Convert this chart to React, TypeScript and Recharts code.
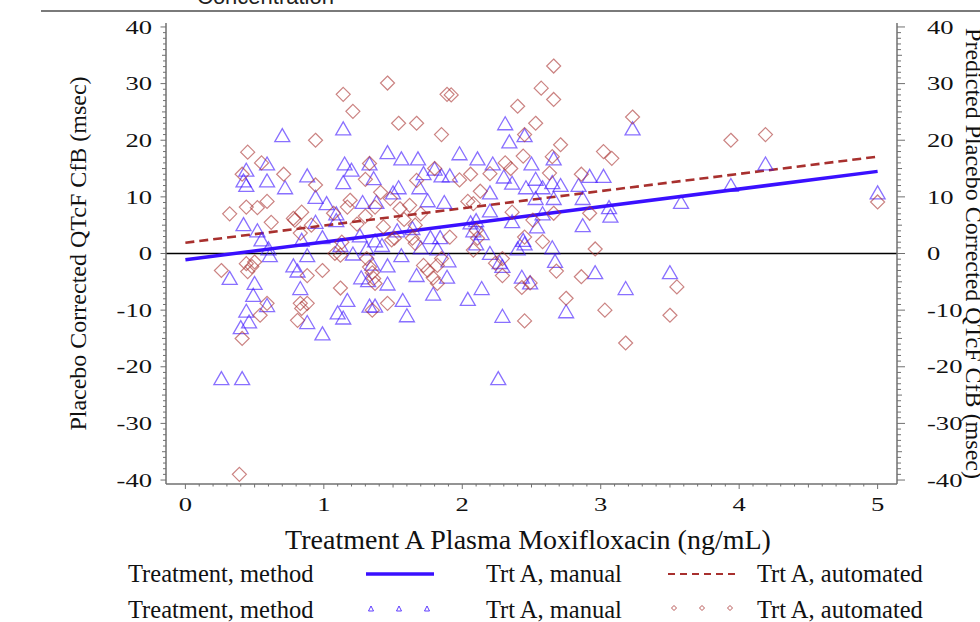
import React from 'react';
import { ComposedChart, Scatter, Line, XAxis, YAxis, ReferenceLine } from 'recharts';

// ---- data ----
const xMajorTicks = [0, 1, 2, 3, 4, 5];
const yMajorTicks = [-40, -30, -20, -10, 0, 10, 20, 30, 40];
const xAllTicks = Array.from({ length: 51 }, (_, i) => i / 10);
const yAllTicks = Array.from({ length: 81 }, (_, i) => i - 40);

const xLabel = 'Treatment A Plasma Moxifloxacin (ng/mL)';
const yLabel = 'Placebo Corrected QTcF CfB (msec)';
const y2Label = 'Predicted Placebo Corrected QTcF CfB (msec)';
const titleText = 'Concentration';
const legendGroup = 'Treatment, method';
const seriesNames = ['Trt A, manual', 'Trt A, automated'];

const manualPts: number[][] = [
  [0.26, -22], [0.41, -22], [0.32, -4.3], [0.5, -5.2], [0.49, -7.3], [0.44, -10.1], [0.46, -12], [0.4, -13],
  [0.59, -9.1], [0.61, -0.3], [0.42, 5.2], [0.52, 4.1], [0.55, 2.5], [0.6, 0.9], [0.42, 12.9], [0.44, 12.1],
  [0.44, 14.8], [0.59, 15.9], [0.59, 12.9], [0.72, 11.7], [0.7, 20.9], [0.88, 13.8], [0.94, 10], [1.02, 8.9],
  [0.84, 2.4], [0.94, 5.6], [0.99, 2.9], [0.88, -0.3], [0.78, -2.1], [0.81, -3], [0.83, -6.1], [0.88, -12.1],
  [0.99, -14.1], [1.09, 5.9], [1.12, 1.5], [1.21, 0], [1.17, -8.2], [1.1, -10.4], [1.14, -11.3], [1.27, -4.2],
  [1.32, -4.7], [1.33, -9.2], [1.37, -9.2], [1.31, 0.9], [1.42, 1.5], [1.46, -2.1], [1.46, -5.3], [1.35, -1.8],
  [1.56, -0.3], [1.57, -8.2], [1.6, -10.9], [1.67, -3.8], [1.53, 4.1], [1.64, 4.5], [1.37, 2.3], [1.26, 3.2],
  [1.7, 1.1], [1.14, 22.1], [1.15, 15.9], [1.2, 14.8], [1.14, 12.6], [1.33, 15.9], [1.46, 17.9], [1.56, 16.8],
  [1.68, 16.8], [1.36, 13.3], [1.28, 9.1], [1.38, 9.1], [1.09, 7.1], [1.54, 11.7], [1.5, 10.8], [1.69, 11.7],
  [1.72, 14.2], [1.75, 9.4], [1.87, 9.1], [1.8, 15], [1.91, 13.8], [1.85, 13.8], [1.98, 17.7], [2.11, 16.8],
  [2.22, 15.9], [2.31, 23], [2.34, 19.8], [2.45, 20.9], [2.5, 15.9], [2.66, 16.8], [2.3, 13.6], [2.36, 12.5],
  [2.53, 13.2], [2.65, 12.6], [2.71, 12.1], [2.84, 12.1], [2.92, 13.7], [3.02, 13.7], [2.2, 10.8], [2.46, 11.7],
  [2.58, 11.7], [2.53, 9.8], [2.66, 9.8], [2.87, 9.8], [2.2, 7.6], [2.58, 7.1], [3.07, 6.7], [3.06, 8.2],
  [2.1, 5.9], [2.36, 5.7], [2.54, 4.8], [2.87, 5], [2.08, 4.1], [2.14, 3.6], [2.06, 5.5], [1.77, 2.9],
  [1.84, 2.9], [2.44, 2.4], [2.65, 1.1], [2.2, 0.1], [2.1, 1.8], [3.23, 22.1], [3.94, 12.1], [4.19, 15.9],
  [3.58, 9.1], [5.0, 10.8], [2.96, -3.3], [3.18, -6.1], [3.5, -3.3], [2.75, -10.2], [2.26, -22], [2.29, -11],
  [2.67, -1.3], [2.43, -4.1], [2.49, -5.1], [2.29, -2.2], [2.14, -6.1], [2.04, -8], [1.79, -7.1], [1.89, -4.1],
  [1.82, 0.9], [1.9, -1.2], [2.4, 0.9], [2.45, 1.8], [2.27, -1.5],
];

const automatedPts: number[][] = [
  [0.39, -39], [0.41, -15], [0.26, -3], [0.44, -1.8], [0.48, -2.3], [0.45, -3.2], [0.5, -1.5], [0.59, -8.8],
  [0.54, -10.9], [0.88, -3.9], [0.99, -3], [1.12, -6.1], [0.83, -8.8], [0.88, -8.8], [0.81, -11.8], [0.84, -9.7],
  [1.08, 0], [1.12, -0.3], [1.31, -0.9], [1.33, -2.4], [1.35, -3.4], [1.36, -4.4], [1.37, -5.3], [1.35, -10],
  [1.46, -8.8], [1.72, -2.1], [1.75, -3], [1.79, -4.3], [1.82, -5.3], [1.85, -0.9], [1.82, -2.1], [2.08, 0.6],
  [2.96, 0.8], [3.55, -5.9], [3.18, -15.8], [3.03, -10], [3.5, -10.9], [2.45, -11.9], [2.75, -7.9], [2.86, -4.1],
  [2.68, -3.1], [2.29, -3.9], [2.24, -1.7], [2.29, -0.9], [2.43, -6], [2.49, -5.2], [1.91, 2.9], [2.1, 4.1],
  [2.11, 2.7], [2.58, 2.1], [2.45, 2.9], [0.62, 5.5], [0.91, 5], [0.79, 5.9], [1.51, 2.7], [1.64, 2.7],
  [1.66, 1.8], [1.14, 28.1], [1.21, 25.1], [1.46, 30.1], [1.54, 23], [1.67, 23], [0.94, 20], [0.45, 17.9],
  [0.55, 16], [0.41, 14], [0.71, 14], [0.94, 12.1], [0.59, 9.2], [0.52, 8.1], [0.44, 8.2], [0.32, 7],
  [0.84, 7.3], [0.78, 6.2], [1.07, 7.1], [1.19, 9.4], [1.17, 8.2], [1.3, 13.1], [1.33, 15.9], [1.41, 10.8],
  [1.48, 9.7], [1.37, 8.2], [1.13, 2], [0.83, 3.6], [2.66, 33.1], [2.57, 29.2], [2.66, 27.2], [1.89, 28.1],
  [1.92, 28], [2.4, 26], [2.53, 23], [1.85, 21], [2.45, 21], [3.23, 24.1], [2.71, 19.2], [2.44, 17.2],
  [2.65, 17.1], [3.02, 18], [3.08, 16.8], [2.31, 16], [1.8, 15], [1.67, 12.9], [2.06, 14], [2.2, 14.1],
  [2.35, 15], [2.63, 14.2], [2.86, 14], [1.98, 13], [2.13, 11], [2.04, 9.2], [2.08, 8.8], [2.36, 7.3],
  [2.92, 7.1], [2.66, 7.1], [2.51, 5.9], [3.94, 20], [4.19, 21], [5.0, 9.1], [1.55, 7.9], [1.58, 6],
  [1.62, 8.5], [1.49, 2.4], [1.7, 7], [1.66, 5], [1.24, 5.2], [1.3, 6.6], [1.43, 4.7],
];

const manualFitPts: number[][] = [[0, -1.1], [5, 14.5]];
const automatedFitPts: number[][] = [[0, 1.9], [5, 17.1]];

const toObj = (a: number[][]) => a.map(([x, y]) => ({ x, y }));
const manualData = toObj(manualPts);
const automatedData = toObj(automatedPts);
const manualFit = toObj(manualFitPts);
const automatedFit = toObj(automatedFitPts);

// ---- style ----
const serif = '"Liberation Serif","Times New Roman",serif';
const sans = '"Liberation Sans",Arial,sans-serif';
const BLUE = '#3a10ff';
const RED = '#a8302e';
const AXIS = '#707070';
const near = (a: number, b: number) => Math.abs(a - b) < 1e-6;
const isMult = (v: number, m: number) => near(v / m, Math.round(v / m));

const Tri = (p: any) => {
  const { cx, cy } = p;
  if (cx == null || cy == null) return <g />;
  return (
    <polygon
      points={`${cx},${cy - 6.5} ${cx - 7.5},${cy + 6.5} ${cx + 7.5},${cy + 6.5}`}
      fill="none" stroke={BLUE} strokeOpacity={0.6} strokeWidth={1.3}
    />
  );
};
const Dia = (p: any) => {
  const { cx, cy } = p;
  if (cx == null || cy == null) return <g />;
  return (
    <polygon
      points={`${cx},${cy - 7} ${cx + 7},${cy} ${cx},${cy + 7} ${cx - 7},${cy}`}
      fill="none" stroke={RED} strokeOpacity={0.6} strokeWidth={1.2}
    />
  );
};

const XTick = (props: any) => {
  const { x, y, payload } = props;
  const v = payload.value;
  const major = xMajorTicks.some((t) => near(t, v));
  const len = major ? 5 : isMult(v, 0.5) ? 3.5 : 2.5;
  return (
    <g>
      <line x1={x} x2={x} y1={y} y2={y + len} stroke={AXIS} strokeWidth={1} />
      {major && (
        <text transform={`translate(${x},${y + 27}) scale(1.4,1)`} textAnchor="middle"
          fontFamily={serif} fontSize={19} fill="#111">{v}</text>
      )}
    </g>
  );
};

const YTickLeft = (props: any) => {
  const { x, y, payload } = props;
  const v = payload.value;
  const major = yMajorTicks.some((t) => near(t, v));
  const len = major ? 5.5 : isMult(v, 5) ? 4 : 3;
  return (
    <g>
      <line x1={x} x2={x - len} y1={y} y2={y} stroke={AXIS} strokeWidth={1} />
      {major && (
        <text transform={`translate(${x - 14},${y}) scale(1.4,1)`} textAnchor="end" dy="0.35em"
          fontFamily={serif} fontSize={19} fill="#111">{v}</text>
      )}
    </g>
  );
};

const YTickRight = (props: any) => {
  const { x, y, payload } = props;
  const v = payload.value;
  const major = yMajorTicks.some((t) => near(t, v));
  const len = major ? 8 : isMult(v, 5) ? 5 : 4;
  return (
    <g>
      <line x1={x} x2={x + len} y1={y} y2={y} stroke={AXIS} strokeWidth={1} />
      {major && (
        <text transform={`translate(${x + 30},${y}) scale(1.4,1)`} textAnchor="start" dy="0.35em"
          fontFamily={serif} fontSize={19} fill="#111">{v}</text>
      )}
    </g>
  );
};

const X_DOMAIN: [number, number] = [-0.14, 5.14];
const Y_DOMAIN: [number, number] = [-40.7, 40.7];

export default function App() {
  return (
    <div style={{ position: 'absolute', left: 0, top: 0, width: 980, height: 622, background: '#fff' }}>
      <ComposedChart width={980} height={622} margin={{ top: 23, right: 23, bottom: 108, left: 106 }}>
        <XAxis xAxisId={0} dataKey="x" type="number" domain={X_DOMAIN} ticks={xAllTicks} interval={0}
          height={30} tickSize={0} tickMargin={0} tickLine={false} tick={<XTick />}
          axisLine={{ stroke: AXIS, strokeWidth: 1.5 }} allowDataOverflow />
        <XAxis xAxisId="top" orientation="top" dataKey="x" type="number" domain={X_DOMAIN} height={0}
          tick={false} tickLine={false} axisLine={{ stroke: '#a0a0a0', strokeWidth: 1.5 }} allowDataOverflow />
        <YAxis yAxisId={0} dataKey="y" type="number" domain={Y_DOMAIN} ticks={yAllTicks} interval={0}
          width={60} tickSize={0} tickMargin={0} tickLine={false} tick={<YTickLeft />}
          axisLine={{ stroke: AXIS, strokeWidth: 1.5 }} allowDataOverflow />
        <YAxis yAxisId="right" orientation="right" dataKey="y" type="number" domain={Y_DOMAIN} ticks={yAllTicks}
          interval={0} width={60} tickSize={0} tickMargin={0} tickLine={false} tick={<YTickRight />}
          axisLine={{ stroke: AXIS, strokeWidth: 1.5 }} allowDataOverflow />
        <ReferenceLine y={0} stroke="#000" strokeWidth={1.3} />
        <Scatter name={seriesNames[0]} data={manualData} dataKey="y" shape={<Tri />} isAnimationActive={false} />
        <Scatter name={seriesNames[1]} data={automatedData} dataKey="y" shape={<Dia />} isAnimationActive={false} />
        <Line data={automatedFit} dataKey="y" type="linear" stroke={RED} strokeWidth={2.6}
          strokeDasharray="9 5" dot={false} activeDot={false} isAnimationActive={false} />
        <Line data={manualFit} dataKey="y" type="linear" stroke={BLUE} strokeWidth={3.5}
          dot={false} activeDot={false} isAnimationActive={false} />
      </ComposedChart>

      <svg width={980} height={622} style={{ position: 'absolute', left: 0, top: 0, pointerEvents: 'none' }}>
        <text x={197} y={3.5} fontFamily={sans} fontSize={22} fill="#222">{titleText}</text>
        <line x1={41} x2={980} y1={11} y2={11} stroke="#7a7a7a" strokeWidth={2} />

        <text transform="translate(86,253.5) rotate(-90)" textAnchor="middle" fontFamily={serif}
          fontSize={24} fill="#111">{yLabel}</text>
        <text transform="translate(966,253.5) rotate(90)" textAnchor="middle" fontFamily={serif}
          fontSize={24} fill="#111">{y2Label}</text>
        <text x={528} y={549} textAnchor="middle" fontFamily={serif} fontSize={28} fill="#111">{xLabel}</text>

        {/* legend row 1: fitted lines */}
        <text x={128} y={582} fontFamily={serif} fontSize={24.5} fill="#111">{legendGroup}</text>
        <line x1={366} x2={434} y1={574} y2={574} stroke={BLUE} strokeWidth={3.5} />
        <text x={486} y={582} fontFamily={serif} fontSize={24.5} fill="#111">{seriesNames[0]}</text>
        <line x1={668} x2={738} y1={574} y2={574} stroke={RED} strokeWidth={2} strokeDasharray="7 5" />
        <text x={757} y={582} fontFamily={serif} fontSize={24.5} fill="#111">{seriesNames[1]}</text>

        {/* legend row 2: markers */}
        <text x={128} y={618} fontFamily={serif} fontSize={24.5} fill="#111">{legendGroup}</text>
        {[371, 399, 427].map((cx) => (
          <polygon key={cx} points={`${cx},${606} ${cx - 2.5},${611} ${cx + 2.5},${611}`}
            fill="none" stroke={BLUE} strokeOpacity={0.8} strokeWidth={1} />
        ))}
        <text x={486} y={618} fontFamily={serif} fontSize={24.5} fill="#111">{seriesNames[0]}</text>
        {[674, 702, 730].map((cx) => (
          <polygon key={cx} points={`${cx},${605.5} ${cx + 2.5},${608} ${cx},${610.5} ${cx - 2.5},${608}`}
            fill="none" stroke={RED} strokeOpacity={0.8} strokeWidth={1} />
        ))}
        <text x={757} y={618} fontFamily={serif} fontSize={24.5} fill="#111">{seriesNames[1]}</text>
      </svg>
    </div>
  );
}
